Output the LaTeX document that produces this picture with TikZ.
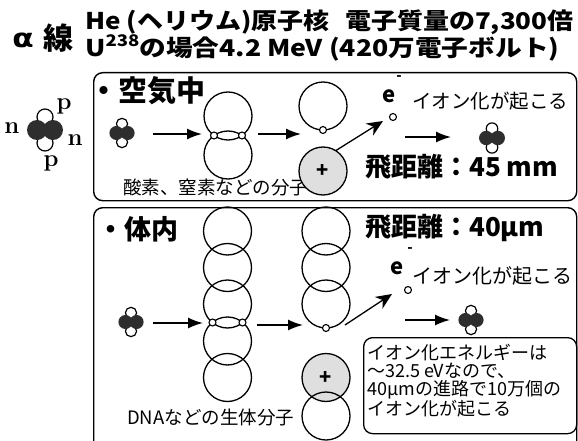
\documentclass[tikz,border=0pt]{standalone}
\usepackage{fontspec}
\usetikzlibrary{arrows.meta}
\newfontfamily\jp{Noto Sans CJK JP}
\newfontfamily\greek{DejaVu Sans}
\newcommand\fs[1]{\fontsize{#1}{#1}\selectfont}

\tikzset{
  panel/.style={draw, line width=1.4pt, rounded corners=9pt, inner sep=0pt, anchor=north west},
  orbit/.style={draw, circle, line width=1.3pt, minimum size=48pt, inner sep=0pt, outer sep=0pt},
  ionized/.style={orbit, fill=gray!25},
  electron/.style={draw, circle, fill=white, line width=1.1pt, minimum size=7pt, inner sep=0pt},
  flow/.style={line width=1.5pt, -{Latex[length=15pt,width=11pt]}},
  kick/.style={line width=1.3pt, -{Stealth[length=16pt,width=14pt,inset=5pt]}},
  label/.style={font=\jp\fs{18.5}, inner sep=0pt, anchor=west},
  heading/.style={font=\jp\bfseries\fs{23}, inner sep=0pt, anchor=west},
  pn/.style={font=\rmfamily\bfseries\fs{24}, inner sep=0pt},
  charge/.style={font=\jp\bfseries\fs{20}, inner sep=0pt},
  nucleus/.pic={
    \draw[fill=white, line width=1.2pt] (0,-13) circle (8) (0,13) circle (8);
    \fill[black!82] (-8,0) circle (10) (8,0) circle (10);
  },
}

\begin{document}
\begin{tikzpicture}[x=1pt, y=-1pt]
\useasboundingbox (0,0) rectangle (578,441);
\fill[white] (0,0) rectangle (578,441);

% ---- heading ----
\node[font=\greek\bfseries\fs{26}, xscale=1.2, inner sep=0pt] (alpha) at (23,40) {α};
\node[font=\jp\bfseries\fs{30}, inner sep=0pt] (sen) at (58,38) {線};
\node[heading, xscale=1.13] (head1) at (85,22) {He (ヘリウム)原子核\hspace{0.6em}電子質量の7,300倍};
\node[heading, xscale=1.16] (head2) at (85,48) {U\raisebox{0.4em}{\fs{16}238}の場合4.2 MeV (420万電子ボルト)};

% ---- helium nucleus with its particles named ----
\pic (he) at (45,130) {nucleus};
\node[pn] (pT) at (64,106) {p};
\node[pn] (nL) at (12,128) {n};
\node[pn] (nR) at (75,140) {n};
\node[pn] (pB) at (51,163) {p};

% ---- panels ----
\node[panel, minimum width=483pt, minimum height=128pt] (air) at (93,72) {};
\node[panel, minimum width=483pt, minimum height=262pt] (body) at (93,207) {};

% ==== in air ====
\node[font=\jp\bfseries\fs{29}, inner sep=0pt, anchor=west] (airT) at (89,91) {・空気中};
\pic[scale=0.7] (hA) at (122,133) {nucleus};
\coordinate (a1s) at (153,134);
\coordinate (a1e) at (202,134);
\draw[flow] (a1s) -- (a1e);

\node[orbit] (o2top) at (228,116) {};
\node[orbit] (o2bot) at (228,155) {};
\node[electron] (eL) at (214,135.5) {};
\node[electron] (eR) at (242,135.5) {};
\node[label] (o2name) at (123,187) {酸素、窒素などの分子};

\coordinate (a2s) at (258,134);
\coordinate (a2e) at (301,134);
\draw[flow] (a2s) -- (a2e);

\node[orbit] (ionA) at (323,106) {};
\node[electron] (eA) at (ionA.south) {};
\node[ionized] (gA) at (323,171) {};
\node[charge] (plusA) at (gA.center) {+};

\node[electron] (freeA) at (393,117) {};
\node[font=\jp\bfseries\fs{22}, inner sep=0pt] (eAl) at (389,96) {e};
\node[font=\jp\bfseries\fs{14}, inner sep=0pt] (mA) at (399,78) {-};
\coordinate (tipA) at (383,121);
\draw[kick] (gA.58) -- (tipA);
\node[label, font=\jp\fs{19.5}] (ionizeA) at (412,101) {イオン化が起こる};

\coordinate (a3s) at (405,137);
\coordinate (a3e) at (451,137);
\draw[flow] (a3s) -- (a3e);
\pic[scale=0.72] (hA2) at (492,138) {nucleus};
\node[font=\jp\bfseries\fs{26}, inner sep=0pt, anchor=west] (rangeA) at (365,167) {飛距離：45 mm};

% ==== in the body ====
\node[font=\jp\bfseries\fs{27}, inner sep=0pt, anchor=west] (bodyT) at (97,229) {・体内};

\foreach \y [count=\i] in {231,267.5,304,341,377.5}
  \node[orbit] (dna\i) at (227.5,\y) {};
\node[electron] (eBL) at (212.5,322.5) {};
\node[electron] (eBR) at (242.5,322.5) {};
\node[label] (dnaname) at (127,418) {DNAなどの生体分子};

\pic[scale=0.7] (hB) at (131,322) {nucleus};
\coordinate (b1s) at (153,323);
\coordinate (b1e) at (203,323);
\draw[flow] (b1s) -- (b1e);
\coordinate (b2s) at (257,325);
\coordinate (b2e) at (303,325);
\draw[flow] (b2s) -- (b2e);

\node[orbit] (ion1) at (326,231) {};
\node[orbit] (ion2) at (326,267.5) {};
\node[orbit] (ion3) at (326,304) {};
\node[electron] (eB) at (ion3.south) {};
\node[ionized] (gB) at (326,377.5) {};
\node[charge] (plusB) at (gB.center) {+};
\node[orbit] (ion5) at (326,416) {};

\node[electron] (freeB) at (408,290) {};
\node[font=\jp\bfseries\fs{22}, inner sep=0pt] (eBl) at (397,268) {e};
\node[font=\jp\bfseries\fs{14}, inner sep=0pt] (mB) at (410,250) {-};
\coordinate (kickB) at (345,325);
\coordinate (tipB) at (392,294);
\draw[kick] (kickB) -- (tipB);
\node[label, font=\jp\fs{20}] (ionizeB) at (412,276) {イオン化が起こる};

\coordinate (b3s) at (405,320);
\coordinate (b3e) at (450,320);
\draw[flow] (b3s) -- (b3e);
\pic[scale=0.7] (hB2) at (471,320) {nucleus};
\node[font=\jp\bfseries\fs{26}, inner sep=0pt, anchor=west] (rangeB) at (365,228) {飛距離：40μm};

% ---- note on the ionization energy ----
\node[panel, line width=1.3pt, minimum width=213pt, minimum height=96pt] (note) at (363,337) {};
\node[font=\jp\fs{18}, inner sep=0pt, anchor=north west, align=left] (noteT) at (367,344)
  {\fontsize{18}{22.4}\selectfont イオン化エネルギーは\\ ～32.5 eVなので、\\40μmの進路で10万個の\\イオン化が起こる};
\end{tikzpicture}
\end{document}
